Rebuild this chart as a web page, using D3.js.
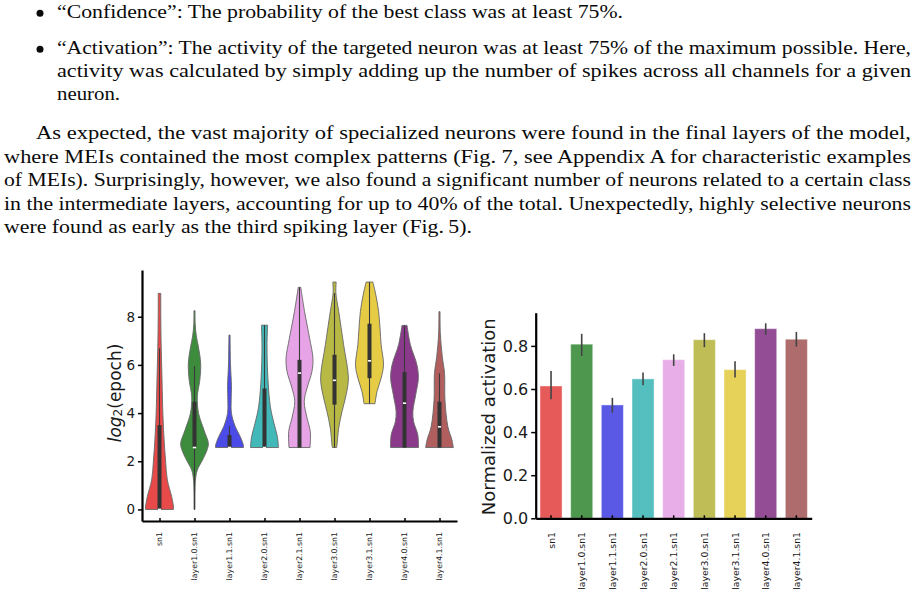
<!DOCTYPE html>
<html>
<head>
<meta charset="utf-8">
<script src="https://cdn.jsdelivr.net/npm/d3@7"></script>
<style>
  body { margin: 0; background: #ffffff; }
  svg { display: block; }
  .paper { font-family: "Liberation Serif", "DejaVu Serif", serif; font-size: 19px; fill: #0a0a0a; }
  .axis-text { font-family: "DejaVu Sans", sans-serif; fill: #1a1a1a; }
</style>
</head>
<body>
<svg id="page" width="914" height="599"></svg>
<script>
// Page / chart global variables
const width = 914;
const height = 599;

// ---- data ----
const categories = ["sn1", "layer1.0.sn1", "layer1.1.sn1", "layer2.0.sn1", "layer2.1.sn1",
                    "layer3.0.sn1", "layer3.1.sn1", "layer4.0.sn1", "layer4.1.sn1"];

const violinColors = ["#e84a4a", "#3d8b3d", "#4b4be8", "#43b8b8", "#e6a3e6",
                      "#b8b845", "#e6cb45", "#8b3a8b", "#b05e5e"];
const barColors = ["#e65a5a", "#4e974e", "#5959e6", "#55bfbf", "#e8aee8",
                   "#bfbd56", "#e6d159", "#934d95", "#ae6c6c"];

// violin outlines: [log2(epoch), relative half width]
const profile_sn1 = [[0, 1.0], [0.1, 1.0], [0.53, 0.87], [1.22, 0.56], [2.05, 0.43], [2.88, 0.33],
                     [3.99, 0.24], [5.37, 0.18], [6.75, 0.12], [8.14, 0.09], [8.97, 0.09]];
const profile_l10 = [[0, 0.03], [1.22, 0.07], [1.63, 0.2], [2.05, 0.57], [2.46, 0.89], [2.74, 0.99],
                     [3.29, 0.68], [3.99, 0.29], [4.68, 0.2], [5.37, 0.38], [6.06, 0.44],
                     [6.75, 0.28], [7.2, 0.13], [7.7, 0.05], [8.25, 0.04]];
const profile_l11 = [[2.57, 1.0], [2.67, 0.99], [3.02, 0.77], [3.43, 0.42], [3.99, 0.14],
                     [4.54, 0.12], [5.09, 0.14], [6.06, 0.07], [7.24, 0.04]];
const profile_l20 = [[2.57, 1.0], [3.02, 0.92], [3.57, 0.68], [4.26, 0.42], [5.37, 0.25],
                     [6.75, 0.18], [7.65, 0.22]];
const profile_l21 = [[2.57, 0.75], [3.24, 0.77], [3.79, 0.54], [4.48, 0.34], [5.04, 0.54],
                     [5.73, 0.89], [6.28, 0.96], [7.11, 0.72], [8.22, 0.36], [9.22, 0.09]];
const profile_l30 = [[2.57, 0.15], [2.68, 0.18], [3.38, 0.3], [4.07, 0.54], [4.76, 0.83],
                     [5.45, 0.99], [6.84, 0.65], [8.22, 0.3], [8.98, 0.1], [9.44, 0.12]];
const profile_l31 = [[4.39, 0.39], [4.9, 0.54], [5.45, 0.83], [6.0, 1.0], [6.84, 0.83],
                     [7.53, 0.75], [8.22, 0.65], [8.91, 0.45], [9.44, 0.24]];
const profile_l40 = [[2.57, 1.0], [3.1, 0.95], [3.65, 0.65], [4.07, 0.6], [4.76, 0.8],
                     [5.45, 0.99], [6.0, 0.89], [6.84, 0.42], [7.64, 0.18]];
const profile_l41 = [[2.57, 0.99], [2.88, 0.89], [3.43, 0.6], [4.54, 0.39], [5.65, 0.36],
                     [6.34, 0.2], [7.31, 0.06], [8.21, 0.04]];
const profiles = [profile_sn1, profile_l10, profile_l11, profile_l20, profile_l21,
                  profile_l30, profile_l31, profile_l40, profile_l41];

// inner box plots
const boxQ1 = [0, 2.6, 2.57, 2.57, 2.57, 4.35, 5.45, 2.57, 2.57];
const boxQ3 = [3.5, 4.47, 3.09, 5.02, 6.21, 6.42, 7.71, 5.7, 4.47];
const medians = [0, 2.57, 2.57, 2.57, 5.66, 5.36, 6.17, 4.41, 3.43];
const whiskerLo = [0, 0, 2.57, 2.57, 2.57, 2.57, 4.39, 2.57, 2.57];
const whiskerHi = [6.69, 5.95, 3.47, 7.65, 9.22, 8.98, 9.44, 7.64, 5.65];

// bar chart
const activation = [0.614, 0.808, 0.526, 0.647, 0.736, 0.829, 0.690, 0.880, 0.831];
const activationLo = [0.552, 0.753, 0.490, 0.617, 0.707, 0.794, 0.653, 0.852, 0.797];
const activationHi = [0.683, 0.856, 0.559, 0.676, 0.761, 0.859, 0.729, 0.905, 0.865];

const yTicksLeft = [0, 2, 4, 6, 8];
const yTicksRight = [0, 0.2, 0.4, 0.6, 0.8];

// paper text
const bulletLines = [
  ["\u201cConfidence\u201d: The probability of the best class was at least 75%."],
  ["\u201cActivation\u201d: The activity of the targeted neuron was at least 75% of the maximum possible. Here,",
   "activity was calculated by simply adding up the number of spikes across all channels for a given",
   "neuron."]
];
const paragraphLines = [
  "As expected, the vast majority of specialized neurons were found in the final layers of the model,",
  "where MEIs contained the most complex patterns (Fig. 7, see Appendix A for characteristic examples",
  "of MEIs). Surprisingly, however, we also found a significant number of neurons related to a certain class",
  "in the intermediate layers, accounting for up to 40% of the total. Unexpectedly, highly selective neurons",
  "were found as early as the third spiking layer (Fig.\u20095)."
];

const svg = d3.select("#page");

// ---- text of the page ----
const textRows = [
  {s: bulletLines[0][0], x: 57, y: 18, w: 566},
  {s: bulletLines[1][0], x: 57, y: 54, w: 854},
  {s: bulletLines[1][1], x: 57, y: 77, w: 854},
  {s: bulletLines[1][2], x: 57, y: 100, w: 63},
  {s: paragraphLines[0], x: 36, y: 139, w: 875},
  {s: paragraphLines[1], x: 4, y: 162.5, w: 907},
  {s: paragraphLines[2], x: 4, y: 186, w: 907},
  {s: paragraphLines[3], x: 4, y: 209.5, w: 907},
  {s: paragraphLines[4], x: 4, y: 233, w: 468}
];

svg.selectAll("text.paper")
   .data(textRows)
   .enter()
   .append("text")
   .attr("class", "paper")
   .attr("x", d => d.x)
   .attr("y", d => d.y)
   .attr("textLength", d => d.w)
   .attr("lengthAdjust", "spacingAndGlyphs")
   .text(d => d.s);

svg.selectAll("circle.bullet")
   .data([13.3, 49.3])
   .enter()
   .append("circle")
   .attr("cx", 40)
   .attr("cy", d => d)
   .attr("r", 3.5)
   .attr("fill", "#0a0a0a");

// ---- left chart: violins ----
const xLeft = d3.scalePoint()
                .domain(categories)
                .range([142, 457])
                .padding(0.5);

const yLeft = d3.scaleLinear()
                .domain([-0.48, 9.94])
                .range([521, 270]);

const halfWidth = d3.scaleLinear().domain([0, 1]).range([0, 14]);

const violinArea = (cx) => d3.area()
                             .y(d => yLeft(d[0]))
                             .x0(d => cx - halfWidth(d[1]))
                             .x1(d => cx + halfWidth(d[1]))
                             .curve(d3.curveCatmullRom.alpha(0.5));

const leftChart = svg.append("g").attr("id", "violins");

categories.forEach((c, i) => {
    const cx = xLeft(c);
    leftChart.append("path")
             .datum(profiles[i])
             .attr("d", violinArea(cx))
             .attr("fill", violinColors[i])
             .attr("stroke", "#666666")
             .attr("stroke-width", 0.9);

    leftChart.append("line")
             .attr("x1", cx).attr("x2", cx)
             .attr("y1", yLeft(whiskerLo[i]))
             .attr("y2", yLeft(whiskerHi[i]))
             .attr("stroke", "#3a3a3a")
             .attr("stroke-width", 1.1);

    leftChart.append("rect")
             .attr("x", cx - 2)
             .attr("width", 4)
             .attr("y", yLeft(boxQ3[i]))
             .attr("height", Math.max(1, yLeft(boxQ1[i]) - yLeft(boxQ3[i])))
             .attr("fill", "#333333");

    leftChart.append("rect")
             .attr("x", cx - 1.6)
             .attr("width", 3.2)
             .attr("y", yLeft(medians[i]) - 0.8)
             .attr("height", 1.6)
             .attr("fill", "#ffffff");
});

const leftAxis = d3.axisLeft(yLeft)
                   .tickValues(yTicksLeft)
                   .tickSize(4)
                   .tickSizeOuter(0)
                   .tickPadding(3)
                   .tickFormat(d3.format("d"));

const bottomAxisLeft = d3.axisBottom(xLeft)
                         .tickSize(-3)
                         .tickSizeOuter(0)
                         .tickFormat("");

const gLeftY = svg.append("g")
                  .attr("class", "axis")
                  .attr("transform", "translate(142,0)")
                  .call(leftAxis);

const gLeftX = svg.append("g")
                  .attr("class", "axis")
                  .attr("transform", "translate(0,521)")
                  .call(bottomAxisLeft);

gLeftY.selectAll("text")
      .attr("class", "axis-text")
      .attr("font-size", "13.5px");

svg.selectAll("text.xlab-left")
   .data(categories)
   .enter()
   .append("text")
   .attr("class", "axis-text xlab-left")
   .attr("font-size", "7.8px")
   .attr("text-anchor", "end")
   .attr("dominant-baseline", "central")
   .attr("transform", d => "translate(" + xLeft(d) + ",532) rotate(-90)")
   .text(d => d);

const yLabelLeft = svg.append("text")
                      .attr("class", "axis-text")
                      .attr("font-size", "17px")
                      .attr("text-anchor", "middle")
                      .attr("dominant-baseline", "central")
                      .attr("transform", "translate(114.5,393) rotate(-90)");
yLabelLeft.append("tspan").attr("font-style", "italic").text("log");
yLabelLeft.append("tspan").attr("font-size", "12px").attr("dy", 3.5).text("2");
yLabelLeft.append("tspan").attr("dy", -3.5).text("(epoch)");

// ---- right chart: bars ----
const xRight = d3.scaleBand()
                 .domain(categories)
                 .range([535.7, 811.7])
                 .paddingInner(0.28)
                 .paddingOuter(0.14);

const yRight = d3.scaleLinear()
                 .domain([0, 0.954])
                 .range([518.3, 312.7]);

svg.selectAll("rect.bar")
   .data(categories)
   .enter()
   .append("rect")
   .attr("class", "bar")
   .attr("x", d => xRight(d))
   .attr("width", xRight.bandwidth())
   .attr("y", (d, i) => yRight(activation[i]))
   .attr("height", (d, i) => yRight(0) - yRight(activation[i]))
   .attr("fill", (d, i) => barColors[i])
   .attr("stroke", "#ffffff")
   .attr("stroke-opacity", 0.45)
   .attr("stroke-width", 1);

svg.selectAll("line.err")
   .data(categories)
   .enter()
   .append("line")
   .attr("class", "err")
   .attr("x1", d => xRight(d) + xRight.bandwidth() / 2)
   .attr("x2", d => xRight(d) + xRight.bandwidth() / 2)
   .attr("y1", (d, i) => yRight(activationLo[i]))
   .attr("y2", (d, i) => yRight(activationHi[i]))
   .attr("stroke", "#444444")
   .attr("stroke-width", 1.6);

const rightAxis = d3.axisLeft(yRight)
                    .tickValues(yTicksRight)
                    .tickSize(4.5)
                    .tickSizeOuter(0)
                    .tickPadding(3)
                    .tickFormat(d3.format(".1f"));

const bottomAxisRight = d3.axisBottom(xRight)
                          .tickSize(-3)
                          .tickSizeOuter(0)
                          .tickFormat("");

const gRightY = svg.append("g")
                   .attr("class", "axis")
                   .attr("transform", "translate(535.7,0)")
                   .call(rightAxis);

const gRightX = svg.append("g")
                   .attr("class", "axis")
                   .attr("transform", "translate(0,518.3)")
                   .call(bottomAxisRight);

gRightY.selectAll("text")
       .attr("class", "axis-text")
       .attr("font-size", "16px");

svg.selectAll("text.xlab-right")
   .data(categories)
   .enter()
   .append("text")
   .attr("class", "axis-text xlab-right")
   .attr("font-size", "9.3px")
   .attr("text-anchor", "end")
   .attr("dominant-baseline", "central")
   .attr("transform", d => "translate(" + (xRight(d) + xRight.bandwidth() / 2) + ",532) rotate(-90)")
   .text(d => d);

svg.append("text")
   .attr("class", "axis-text")
   .attr("font-size", "18px")
   .attr("text-anchor", "middle")
   .attr("dominant-baseline", "central")
   .attr("transform", "translate(488.3,416.7) rotate(-90)")
   .text("Normalized activation");

// axis styling
svg.selectAll(".axis path.domain")
   .attr("stroke", "#000000")
   .attr("stroke-width", 2.2);
svg.selectAll(".axis .tick line")
   .attr("stroke", "#000000")
   .attr("stroke-width", 1.5);
</script>
</body>
</html>
